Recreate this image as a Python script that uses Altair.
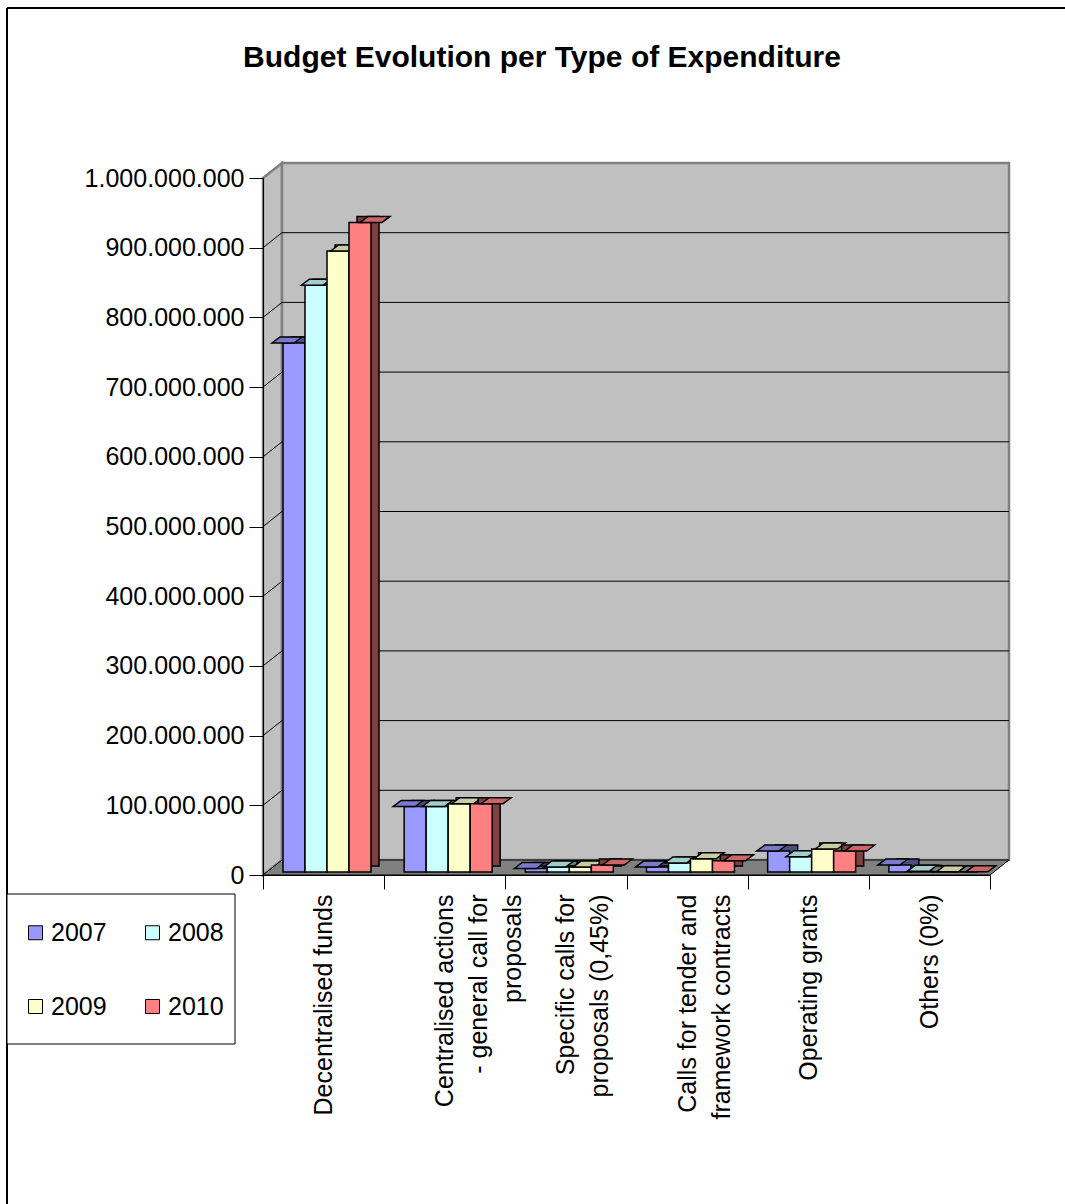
import altair as alt
import pandas as pd

TITLE = "Budget Evolution per Type of Expenditure"
CATEGORIES = [
    "Decentralised funds",
    "Centralised actions|- general call for|proposals",
    "Specific calls for|proposals (0,45%)",
    "Calls for tender and|framework contracts",
    "Operating grants",
    "Others (0%)",
]
YEARS = ["2007", "2008", "2009", "2010"]
V2007 = [759_000_000, 94_000_000, 5_000_000, 7_000_000, 30_000_000, 10_000_000]
V2008 = [842_000_000, 94_000_000, 7_000_000, 13_000_000, 22_000_000, 1_000_000]
V2009 = [891_000_000, 98_000_000, 7_000_000, 19_000_000, 33_000_000, 500_000]
V2010 = [932_000_000, 98_000_000, 10_000_000, 16_000_000, 30_000_000, 300_000]
Y_TICKS = [0, 100_000_000, 200_000_000, 300_000_000, 400_000_000, 500_000_000,
           600_000_000, 700_000_000, 800_000_000, 900_000_000, 1_000_000_000]
GRID_TICKS = Y_TICKS[1:-1]

FRONT = ["#9999FF", "#CCFFFF", "#FFFFCC", "#FF8080"]
TOP = ["#7A7ACC", "#A3CCCC", "#CCCCA3", "#CC6666"]
SIDE = ["#4D4D80", "#668080", "#808066", "#804040"]

FONT = "Liberation Sans"

# ---- geometry (plot area and pseudo-3D depth) ----
W, H = 727, 697
PAD_L, PAD_T = 263, 178
PAD_R, PAD_B = 1065 - PAD_L - W, 1204 - PAD_T - H
DX, DY = 19, 15          # wall depth
BD, BDY = 8, 6           # bar depth
LIFT = 3                 # bars stand slightly behind the front edge
SUB0, SUB1 = 20, 108     # bar group span inside each category band

rows = []
for yi, (yr, vals) in enumerate(zip(YEARS, [V2007, V2008, V2009, V2010])):
    for c, v in zip(CATEGORIES, vals):
        rows.append({"cat": c, "year": yr, "value": v, "top": TOP[yi], "side": SIDE[yi]})
df = pd.DataFrame(rows)
ticks_df = pd.DataFrame({"tick": GRID_TICKS})
one = pd.DataFrame({"t": [TITLE]})

xscale = alt.Scale(domain=CATEGORIES, paddingInner=0, paddingOuter=0)
yscale = alt.Scale(domain=[0, 1_000_000_000], nice=False, zero=True)


def off_scale(shift):
    return alt.Scale(domain=YEARS, range=[SUB0 + shift, SUB1 + shift],
                     paddingInner=0, paddingOuter=0)


xaxis = alt.Axis(
    title=None, labelAngle=270, labelAlign="right", labelBaseline="middle",
    labelFont=FONT, labelFontSize=25, labelLineHeight=34, labelPadding=5,
    labelLimit=0, labelColor="black", labelOverlap=False,
    labelExpr="split(datum.label, '|')",
    tickBand="extent", tickSize=14, tickColor="black", tickWidth=1,
    domainColor="black", domainWidth=1, grid=False, zindex=1,
)
yaxis = alt.Axis(
    title=None, values=Y_TICKS,
    labelExpr="replace(replace(replace(format(datum.value, ','), ',', '.'), ',', '.'), ',', '.')",
    labelFont=FONT, labelFontSize=25, labelColor="black", labelPadding=5,
    labelLimit=0, labelOverlap=False,
    tickSize=14, tickColor="black", tickWidth=1,
    domainColor="black", domainWidth=1, grid=False, zindex=1,
)

X_ENC = alt.X("cat:N", scale=xscale, axis=xaxis, sort=CATEGORIES)
Y_ENC = alt.Y("value:Q", scale=yscale, axis=yaxis)
Y_TICK_ENC = alt.Y("tick:Q", scale=yscale, axis=yaxis)

layers = []

# outer chart border (top and left edges visible)
layers.append(alt.Chart(one).mark_rule(color="black", strokeWidth=2).encode(
    x=alt.value(7 - PAD_L), x2=alt.value(W + PAD_R + 5), y=alt.value(8 - PAD_T)))
layers.append(alt.Chart(one).mark_rule(color="black", strokeWidth=2).encode(
    x=alt.value(7 - PAD_L), y=alt.value(8 - PAD_T), y2=alt.value(H + PAD_B + 5)))

# legend frame
layers.append(alt.Chart(one).mark_rect(fill="white", stroke="black", strokeWidth=1).encode(
    x=alt.value(7 - PAD_L), x2=alt.value(235 - PAD_L),
    y=alt.value(894 - PAD_T), y2=alt.value(1044 - PAD_T)))

# left wall
left_wall = f"M0,0 L{DX},{-DY} L{DX},{H - DY} L0,{H} Z"
layers.append(alt.Chart(one).mark_point(
    shape=left_wall, size=4, filled=True, fill="#C0C0C0", stroke="#808080",
    strokeWidth=2.5, opacity=1).encode(x=alt.value(0), y=alt.value(0)))

# back wall
layers.append(alt.Chart(one).mark_rect(
    fill="#C0C0C0", stroke="#808080", strokeWidth=2.5).encode(
    x=alt.value(DX), x2=alt.value(W + DX), y=alt.value(-DY), y2=alt.value(H - DY)))

# gridlines on the back wall
layers.append(alt.Chart(ticks_df).mark_rule(color="black", strokeWidth=1, yOffset=-DY).encode(
    x=alt.value(DX), x2=alt.value(W + DX), y=Y_TICK_ENC))

# diagonals on the left wall
layers.append(alt.Chart(ticks_df).mark_rule(color="black", strokeWidth=1, y2Offset=-DY).encode(
    x=alt.value(0), x2=alt.value(DX), y=Y_TICK_ENC, y2="tick:Q"))

# floor
floor = f"M0,{H} L{W},{H} L{W + DX},{H - DY} L{DX},{H - DY} Z"
layers.append(alt.Chart(one).mark_point(
    shape=floor, size=4, filled=True, fill="#808080", stroke="black",
    strokeWidth=1, opacity=1).encode(x=alt.value(0), y=alt.value(0)))

top_shape = f"M-11,0 L11,0 L{11 + BD},{-BDY} L{-11 + BD},{-BDY} Z"

for yr in YEARS:
    base = alt.Chart(df).transform_filter(alt.datum.year == yr)
    # side (shifted copy)
    layers.append(base.mark_bar(
        yOffset=-LIFT - BDY, y2Offset=-LIFT - BDY, stroke="black", strokeWidth=1.5).encode(
        x=X_ENC, xOffset=alt.XOffset("year:N", scale=off_scale(BD)),
        y=Y_ENC, fill=alt.Fill("side:N", scale=None)))
    # front face
    layers.append(base.mark_bar(
        yOffset=-LIFT, y2Offset=-LIFT, stroke="black", strokeWidth=1.5, opacity=1).encode(
        x=X_ENC, xOffset=alt.XOffset("year:N", scale=off_scale(0)),
        y=Y_ENC,
        color=alt.Color("year:N", scale=alt.Scale(domain=YEARS, range=FRONT),
                        legend=alt.Legend(
                            orient="none", legendX=-240, legendY=742, columns=2,
                            direction="horizontal",
                            title=None, symbolType="square", symbolSize=196,
                            symbolStrokeColor="black", symbolStrokeWidth=1,
                            symbolOpacity=1, labelFont=FONT, labelFontSize=25,
                            labelColor="black", labelOffset=3, columnPadding=33,
                            rowPadding=48, padding=0, strokeColor=None))))
    # top face
    layers.append(base.mark_point(
        shape=top_shape, size=4, filled=True, stroke="black", strokeWidth=1.5,
        opacity=1, yOffset=-LIFT).encode(
        x=X_ENC, xOffset=alt.XOffset("year:N", scale=off_scale(0)),
        y=Y_ENC, fill=alt.Fill("top:N", scale=None)))

# title
layers.append(alt.Chart(one).mark_text(
    font=FONT, fontSize=30, fontWeight="bold", color="black",
    align="center", baseline="alphabetic").encode(
    x=alt.value(542 - PAD_L), y=alt.value(67 - PAD_T), text="t:N"))

chart = alt.layer(*layers).resolve_scale(xOffset="independent").properties(
    width=W, height=H,
    autosize=alt.AutoSizeParams(type="none"),
    padding={"left": PAD_L, "top": PAD_T, "right": PAD_R, "bottom": PAD_B},
    background="white",
).configure_view(stroke=None)

chart.save("out.html", embed_options={"renderer": "svg", "actions": False})
